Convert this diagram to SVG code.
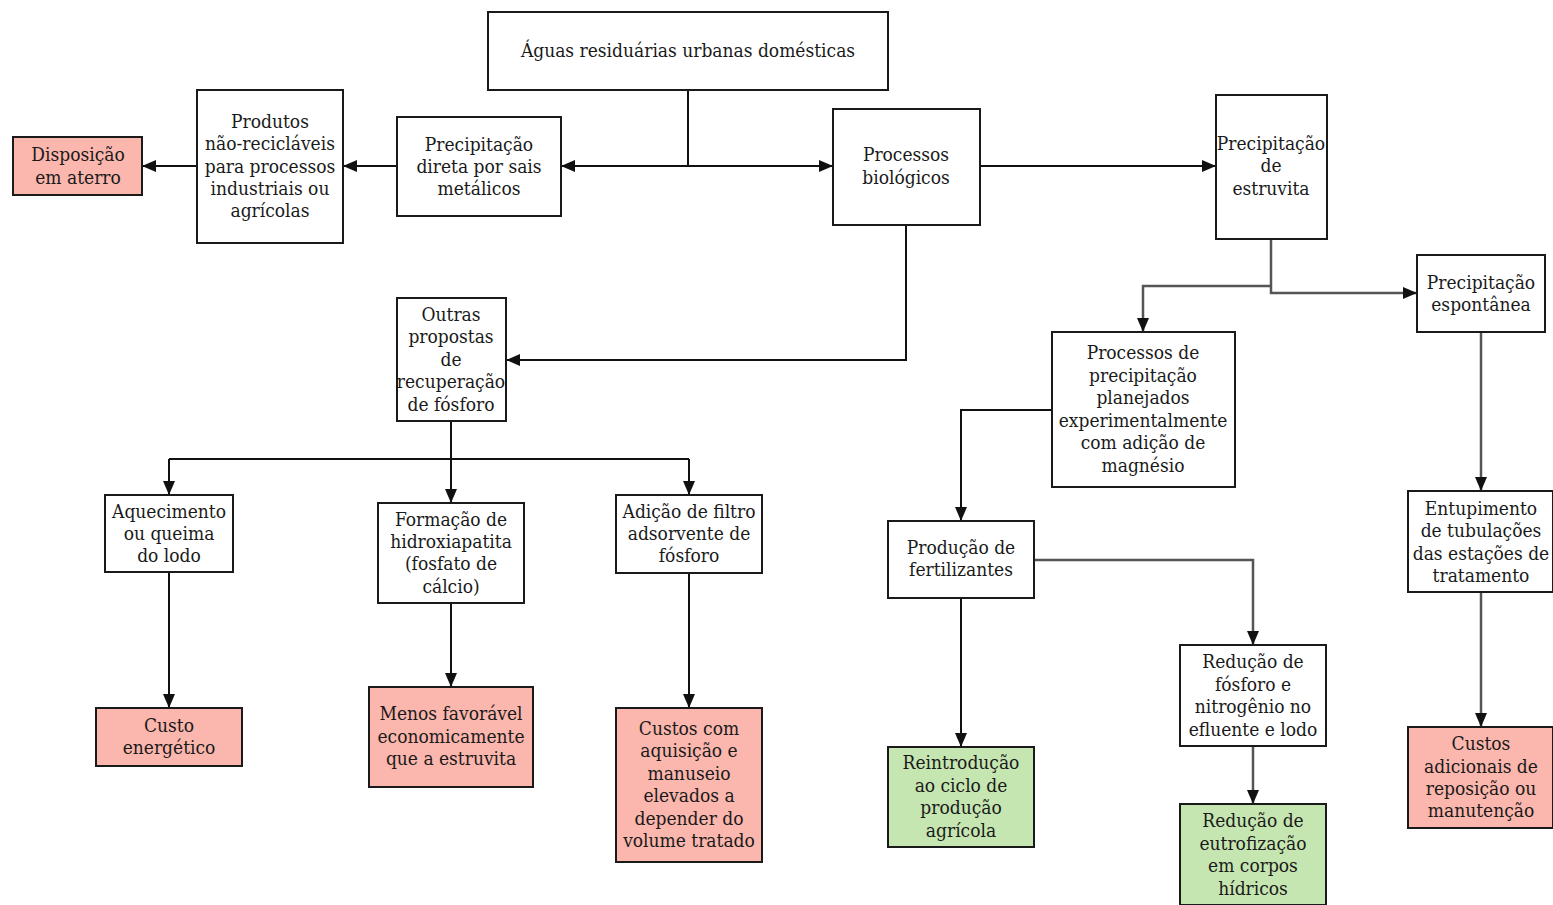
<svg xmlns="http://www.w3.org/2000/svg" width="1553" height="905" viewBox="0 0 1553 905">
<defs>
<marker id="ah" markerUnits="userSpaceOnUse" markerWidth="14" markerHeight="12" refX="13" refY="6" orient="auto"><path d="M0,0 L14,6 L0,12 Z" fill="#111"/></marker>
<marker id="ahg" markerUnits="userSpaceOnUse" markerWidth="14" markerHeight="12" refX="13" refY="6" orient="auto"><path d="M0,0 L14,6 L0,12 Z" fill="#111"/></marker>
</defs>
<style>
rect{fill:#fff;stroke:#1a1a1a;stroke-width:2}
rect.p{fill:#fbb6ad}
rect.g{fill:#c6e6b1}
text{font-family:"DejaVu Serif Condensed","DejaVu Serif","Liberation Serif",serif;font-size:19px;fill:#1a1a1a;text-anchor:middle}
.c path{fill:none;stroke:#111;stroke-width:2}
.c path.gr{stroke:#555;stroke-width:2.5}
</style>
<rect x="0" y="0" width="1553" height="905" style="fill:#fff;stroke:none"/>
<g class="c">
<path d="M688,90 V166"/>
<path d="M688,166 H562" marker-end="url(#ah)"/>
<path d="M688,166 H832" marker-end="url(#ah)"/>
<path d="M397,166 H344" marker-end="url(#ah)"/>
<path d="M197,166 H143" marker-end="url(#ah)"/>
<path d="M980,166 H1215" marker-end="url(#ah)"/>
<path d="M906,225 V360 H507" marker-end="url(#ah)"/>
<path class="gr" d="M1271,239 V293 H1416" marker-end="url(#ahg)"/>
<path class="gr" d="M1271,286 H1143 V331" marker-end="url(#ahg)"/>
<path class="gr" d="M1481,332 V490" marker-end="url(#ahg)"/>
<path class="gr" d="M1481,592 V726" marker-end="url(#ahg)"/>
<path d="M1052,410 H961 V520" marker-end="url(#ah)"/>
<path class="gr" d="M1034,560 H1253 V644" marker-end="url(#ahg)"/>
<path d="M961,598 V746" marker-end="url(#ah)"/>
<path class="gr" d="M1253,746 V803" marker-end="url(#ahg)"/>
<path d="M451,421 V459"/>
<path d="M169,459 H689"/>
<path d="M169,459 V494" marker-end="url(#ah)"/>
<path d="M451,459 V502" marker-end="url(#ah)"/>
<path d="M689,459 V494" marker-end="url(#ah)"/>
<path d="M169,572 V707" marker-end="url(#ah)"/>
<path d="M451,603 V686" marker-end="url(#ah)"/>
<path d="M689,573 V707" marker-end="url(#ah)"/>
</g>
<g id="aguas"><rect x="488" y="12" width="400" height="78"/><text x="688" y="57">Águas residuárias urbanas domésticas</text></g>
<g id="precip-direta"><rect x="397" y="117" width="164" height="99"/><text x="479" y="151">Precipitação</text><text x="479" y="173">direta por sais</text><text x="479" y="195">metálicos</text></g>
<g id="produtos"><rect x="197" y="90" width="146" height="153"/><text x="270" y="128">Produtos</text><text x="270" y="150">não-recicláveis</text><text x="270" y="173">para processos</text><text x="270" y="195">industriais ou</text><text x="270" y="217">agrícolas</text></g>
<g id="disposicao"><rect class="p" x="13" y="137" width="129" height="58"/><text x="78" y="161">Disposição</text><text x="78" y="184">em aterro</text></g>
<g id="biologicos"><rect x="833" y="109" width="147" height="116"/><text x="906" y="161">Processos</text><text x="906" y="184">biológicos</text></g>
<g id="estruvita"><rect x="1216" y="95" width="111" height="144"/><text x="1271" y="150">Precipitação</text><text x="1271" y="172">de</text><text x="1271" y="195">estruvita</text></g>
<g id="espontanea"><rect x="1417" y="255" width="128" height="77"/><text x="1481" y="289">Precipitação</text><text x="1481" y="311">espontânea</text></g>
<g id="planejados"><rect x="1052" y="332" width="183" height="155"/><text x="1143" y="359">Processos de</text><text x="1143" y="382">precipitação</text><text x="1143" y="404">planejados</text><text x="1143" y="427">experimentalmente</text><text x="1143" y="449">com adição de</text><text x="1143" y="472">magnésio</text></g>
<g id="outras"><rect x="397" y="298" width="109" height="123"/><text x="451" y="321">Outras</text><text x="451" y="343">propostas</text><text x="451" y="366">de</text><text x="451" y="388">recuperação</text><text x="451" y="411">de fósforo</text></g>
<g id="aquecimento"><rect x="105" y="495" width="128" height="77"/><text x="169" y="518">Aquecimento</text><text x="169" y="540">ou queima</text><text x="169" y="562">do lodo</text></g>
<g id="hidroxiapatita"><rect x="378" y="503" width="146" height="100"/><text x="451" y="526">Formação de</text><text x="451" y="548">hidroxiapatita</text><text x="451" y="570">(fosfato de</text><text x="451" y="593">cálcio)</text></g>
<g id="filtro"><rect x="616" y="495" width="146" height="78"/><text x="689" y="518">Adição de filtro</text><text x="689" y="540">adsorvente de</text><text x="689" y="562">fósforo</text></g>
<g id="custo-energetico"><rect class="p" x="96" y="708" width="146" height="58"/><text x="169" y="732">Custo</text><text x="169" y="754">energético</text></g>
<g id="menos-favoravel"><rect class="p" x="369" y="687" width="164" height="100"/><text x="451" y="720">Menos favorável</text><text x="451" y="743">economicamente</text><text x="451" y="765">que a estruvita</text></g>
<g id="custos-aquisicao"><rect class="p" x="616" y="708" width="146" height="154"/><text x="689" y="735">Custos com</text><text x="689" y="757">aquisição e</text><text x="689" y="780">manuseio</text><text x="689" y="802">elevados a</text><text x="689" y="825">depender do</text><text x="689" y="847">volume tratado</text></g>
<g id="fertilizantes"><rect x="888" y="521" width="146" height="77"/><text x="961" y="554">Produção de</text><text x="961" y="576">fertilizantes</text></g>
<g id="reintroducao"><rect class="g" x="888" y="747" width="146" height="100"/><text x="961" y="769">Reintrodução</text><text x="961" y="792">ao ciclo de</text><text x="961" y="814">produção</text><text x="961" y="837">agrícola</text></g>
<g id="reducao-fosforo"><rect x="1180" y="645" width="146" height="101"/><text x="1253" y="668">Redução de</text><text x="1253" y="691">fósforo e</text><text x="1253" y="713">nitrogênio no</text><text x="1253" y="736">efluente e lodo</text></g>
<g id="eutrofizacao"><rect class="g" x="1180" y="804" width="146" height="101"/><text x="1253" y="827">Redução de</text><text x="1253" y="850">eutrofização</text><text x="1253" y="872">em corpos</text><text x="1253" y="895">hídricos</text></g>
<g id="entupimento"><rect x="1408" y="491" width="145" height="101"/><text x="1481" y="515">Entupimento</text><text x="1481" y="537">de tubulações</text><text x="1481" y="560">das estações de</text><text x="1481" y="582">tratamento</text></g>
<g id="custos-adicionais"><rect class="p" x="1408" y="727" width="145" height="101"/><text x="1481" y="750">Custos</text><text x="1481" y="773">adicionais de</text><text x="1481" y="795">reposição ou</text><text x="1481" y="817">manutenção</text></g>
</svg>
